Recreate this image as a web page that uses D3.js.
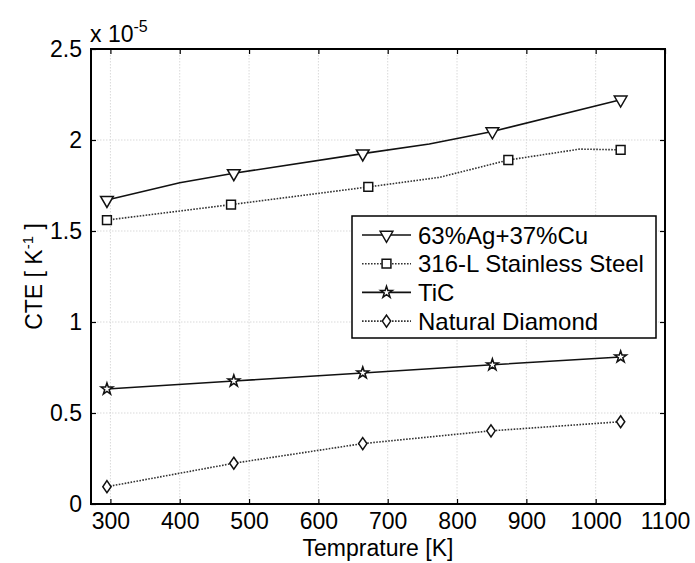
<!DOCTYPE html>
<html>
<head>
<meta charset="utf-8">
<script src="https://cdn.jsdelivr.net/npm/d3@7"></script>
<style>
  body { margin: 0; background: #fff; }
  svg { display: block; }
  text { font-family: "Liberation Sans", Arial, Helvetica, sans-serif; fill: #000; }
</style>
</head>
<body>
<svg id="chart" width="695" height="563"></svg>
<script>
// Thermal expansion coefficient (units of 1e-5 1/K) versus temperature (K)
const agCuT = [295, 400, 478, 664, 760, 851, 1036];
const agCuCTE = [1.67, 1.765, 1.817, 1.925, 1.978, 2.047, 2.221];
const agCuMarked = [0, 2, 3, 5, 6];

const steelT = [295, 474, 672, 775, 874, 977, 1036];
const steelCTE = [1.56, 1.645, 1.742, 1.795, 1.89, 1.95, 1.946];
const steelMarked = [0, 1, 2, 4, 6];

const ticT = [295, 478, 664, 851, 1036];
const ticCTE = [0.632, 0.676, 0.72, 0.765, 0.808];
const ticMarked = [0, 1, 2, 3, 4];

const diamondT = [295, 478, 664, 849, 1036];
const diamondCTE = [0.095, 0.224, 0.332, 0.402, 0.452];
const diamondMarked = [0, 1, 2, 3, 4];

const seriesNames = ["63%Ag+37%Cu", "316-L Stainless Steel", "TiC", "Natural Diamond"];

const xTicks = [300, 400, 500, 600, 700, 800, 900, 1000, 1100];
const xTickLabels = ["300", "400", "500", "600", "700", "800", "900", "1000", "1100"];
const yTicks = [0, 0.5, 1, 1.5, 2, 2.5];
const yTickLabels = ["0", "0.5", "1", "1.5", "2", "2.5"];

const xTitle = "Temprature [K]";

(function () {
const svg = d3.select("#chart");
const pL = 91, pR = 665, pT = 49, pB = 504;

const x = d3.scaleLinear().domain([272, 1100]).range([pL, pR]);
const y = d3.scaleLinear().domain([0, 2.5]).range([pB, pT]);

// Grid
const grid = svg.append("g")
  .attr("stroke", "#d9d9d9").attr("stroke-width", 1).attr("stroke-dasharray", "1.5,1.5");
grid.selectAll("line.gx").data(xTicks).join("line").attr("class", "gx")
  .attr("x1", d => x(d)).attr("x2", d => x(d)).attr("y1", pT).attr("y2", pB);
grid.selectAll("line.gy").data(yTicks).join("line").attr("class", "gy")
  .attr("y1", d => y(d)).attr("y2", d => y(d)).attr("x1", pL).attr("x2", pR);

// Marker shapes
const triDown = { draw(ctx, size) {
  const s = Math.sqrt(size / (Math.sqrt(3) / 4)); const h = s * Math.sqrt(3) / 2;
  ctx.moveTo(-s / 2, -h / 3); ctx.lineTo(s / 2, -h / 3); ctx.lineTo(0, 2 * h / 3); ctx.closePath();
}};
const diamondShape = { draw(ctx, size) {
  const w = Math.sqrt(size / 1.45) / 2, h = w * 1.45;
  ctx.moveTo(0, -h); ctx.lineTo(w, 0); ctx.lineTo(0, h); ctx.lineTo(-w, 0); ctx.closePath();
}};

const series = [
  { name: seriesNames[0], T: agCuT, v: agCuCTE, marked: agCuMarked, dash: null, color: "#111", symbol: triDown, size: 70 },
  { name: seriesNames[1], T: steelT, v: steelCTE, marked: steelMarked, dash: "1.6,1.4", color: "#333", symbol: d3.symbolSquare, size: 78 },
  { name: seriesNames[2], T: ticT, v: ticCTE, marked: ticMarked, dash: null, color: "#111", symbol: d3.symbolStar, size: 42 },
  { name: seriesNames[3], T: diamondT, v: diamondCTE, marked: diamondMarked, dash: "1.6,1.4", color: "#333", symbol: diamondShape, size: 100 }
];

const line = d3.line().x(d => x(d[0])).y(d => y(d[1]));

series.forEach(s => {
  const pts = s.T.map((t, i) => [t, s.v[i]]);
  svg.append("path").datum(pts)
    .attr("d", line).attr("fill", "none")
    .attr("stroke", s.color).attr("stroke-width", 1.6)
    .attr("stroke-dasharray", s.dash);
  svg.append("g").selectAll("path").data(s.marked.map(i => pts[i])).join("path")
    .attr("transform", d => `translate(${x(d[0])},${y(d[1])})`)
    .attr("d", d3.symbol().type(s.symbol).size(s.size)())
    .attr("fill", "#fff").attr("stroke", "#111").attr("stroke-width", 1.5);
});

// Axes with inward ticks
const fontSize = 23;
const axB = svg.append("g").attr("transform", `translate(0,${pB})`)
  .call(d3.axisBottom(x).tickValues(xTicks).tickFormat((d, i) => xTickLabels[i])
    .tickSize(-5).tickSizeOuter(0).tickPadding(9));
const axL = svg.append("g").attr("transform", `translate(${pL},0)`)
  .call(d3.axisLeft(y).tickValues(yTicks).tickFormat((d, i) => yTickLabels[i])
    .tickSize(-5).tickSizeOuter(0).tickPadding(9));
const axT = svg.append("g").attr("transform", `translate(0,${pT})`)
  .call(d3.axisTop(x).tickValues(xTicks).tickFormat("").tickSize(-5).tickSizeOuter(0));
const axR = svg.append("g").attr("transform", `translate(${pR},0)`)
  .call(d3.axisRight(y).tickValues(yTicks).tickFormat("").tickSize(-5).tickSizeOuter(0));
[axB, axL, axT, axR].forEach(a => {
  a.select(".domain").remove();
  a.selectAll(".tick line").attr("stroke", "#000").attr("stroke-width", 1.2);
  a.selectAll("text").attr("font-size", fontSize)
    .style("font-family", "'Liberation Sans', Arial, sans-serif").attr("fill", "#000");
});

svg.append("rect").attr("x", pL).attr("y", pT)
  .attr("width", pR - pL).attr("height", pB - pT)
  .attr("fill", "none").attr("stroke", "#000").attr("stroke-width", 2);

// Exponent label
const expo = svg.append("text").attr("x", pL - 1).attr("y", 42).attr("font-size", fontSize);
expo.append("tspan").text("x 10");
expo.append("tspan").attr("dy", -10).attr("font-size", 16).text("-5");

// Axis titles
svg.append("text").attr("x", (pL + pR) / 2).attr("y", 556)
  .attr("text-anchor", "middle").attr("font-size", fontSize).text(xTitle);

const yt = svg.append("text")
  .attr("transform", `translate(42,${(pT + pB) / 2}) rotate(-90)`)
  .attr("text-anchor", "middle").attr("font-size", fontSize);
yt.append("tspan").text("CTE [ K");
yt.append("tspan").attr("dy", -9).attr("font-size", 15).text("-1");
yt.append("tspan").attr("dy", 9).text(" ]");

// Legend
const lg = svg.append("g");
lg.append("rect").attr("x", 352).attr("y", 216).attr("width", 304).attr("height", 122)
  .attr("fill", "#fff").attr("stroke", "#000").attr("stroke-width", 1.5);
series.forEach((s, i) => {
  const cy = 235 + i * 28.7;
  lg.append("line").attr("x1", 362).attr("x2", 411).attr("y1", cy).attr("y2", cy)
    .attr("stroke", s.color).attr("stroke-width", 1.6).attr("stroke-dasharray", s.dash);
  lg.append("path").attr("transform", `translate(386.5,${cy})`)
    .attr("d", d3.symbol().type(s.symbol).size(s.size)())
    .attr("fill", "#fff").attr("stroke", "#111").attr("stroke-width", 1.5);
  lg.append("text").attr("x", 418).attr("y", cy).attr("dy", "0.36em")
    .attr("font-size", 24).text(s.name);
});
})();
</script>
</body>
</html>
